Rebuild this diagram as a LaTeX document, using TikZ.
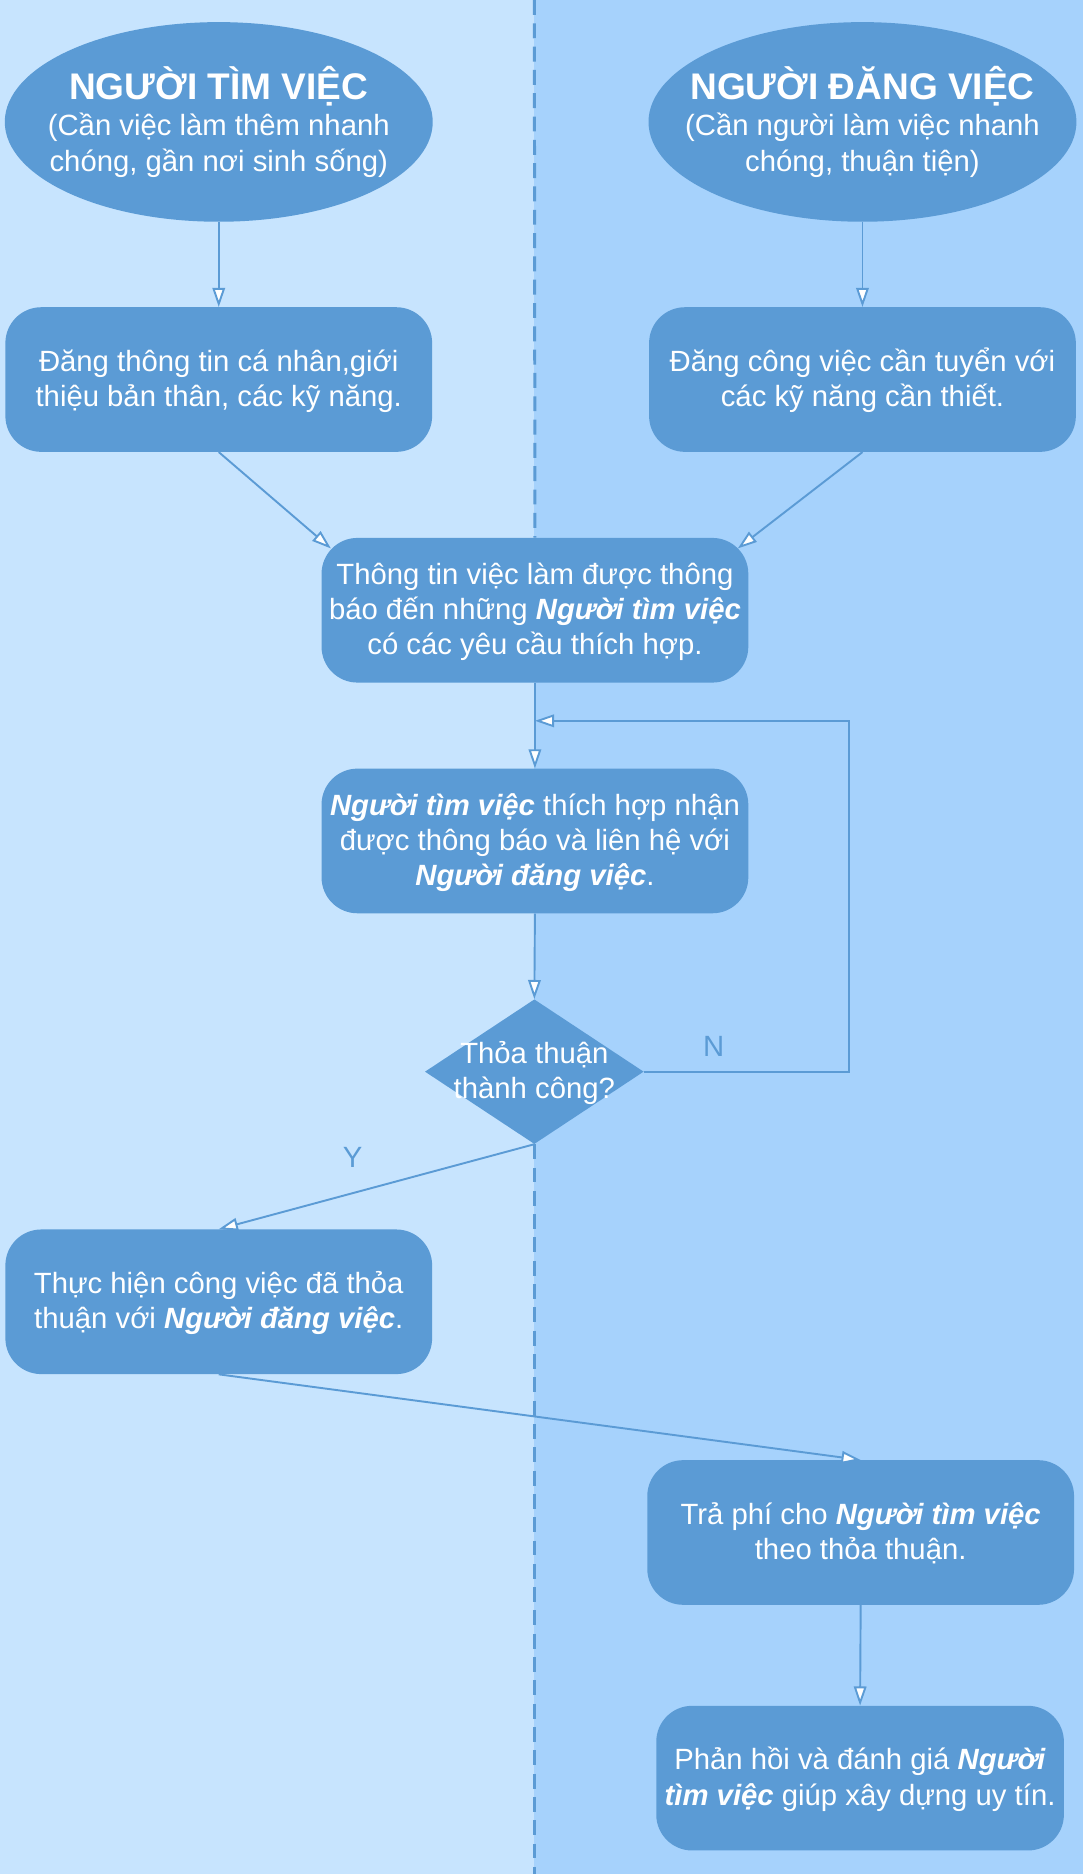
\documentclass[tikz,border=0pt]{standalone}
\usepackage{fontspec}
\setmainfont{Liberation Sans}
\usetikzlibrary{shapes.geometric,arrows.meta,calc}
\definecolor{nodeblue}{HTML}{5B9BD5}
\definecolor{leftbg}{HTML}{C7E4FE}
\definecolor{rightbg}{HTML}{A6D2FC}
\newcommand{\bi}[1]{\textbf{\textit{#1}}}
\newcommand{\ml}[1]{\raisebox{-2pt}[\height][\depth]{\begin{tabular}{@{}c@{}}#1\end{tabular}}}
\begin{document}
\begin{tikzpicture}[x=1pt,y=-1pt,
  arr/.style={draw=nodeblue, line width=1.6pt, -{Triangle[length=16pt,width=10.5pt,fill=white]}},
  ellbox/.style={ellipse, fill=nodeblue, draw=none, minimum width=358pt, minimum height=167pt, inner sep=0pt},
  procbox/.style={rectangle, rounded corners=30pt, fill=nodeblue, draw=none, minimum width=357pt, minimum height=121pt, inner sep=0pt, text=white, font=\fontsize{24.5}{29.5}\selectfont},
  decbox/.style={diamond, fill=nodeblue, draw=none, minimum width=183pt, minimum height=121pt, inner sep=0pt},
  wtext/.style={text=white, inner sep=0pt, font=\fontsize{24.5}{29.5}\selectfont},
  ttext/.style={text=white, inner sep=0pt, font=\fontsize{31}{36}\selectfont\bfseries},
  lbl/.style={text=nodeblue, inner sep=0pt, font=\fontsize{24.5}{29.5}\selectfont},
  divider/.style={draw=nodeblue, line width=2.5pt, dash pattern=on 12.5pt off 7pt}
]
\useasboundingbox (0,0) rectangle (906,1567.7);
\fill[leftbg] (0,0) rectangle (447,1567.7);
\fill[rightbg] (447,0) rectangle (906,1567.7);

% ellipses
\node[ellbox] (e1) at (183,102) {};
\node[ttext] (e1t) at (183,72) {NGƯỜI TÌM VIỆC};
\node[wtext] (e1s) at (183,120.5) {\ml{(Cần việc làm thêm nhanh\\chóng, gần nơi sinh sống)}};
\node[ellbox] (e2) at (721.5,102) {};
\node[ttext] (e2t) at (721.5,72) {NGƯỜI ĐĂNG VIỆC};
\node[wtext] (e2s) at (721.5,120.5) {\ml{(Cần người làm việc nhanh\\chóng, thuận tiện)}};

% process boxes
\node[procbox] (b1) at (183,317.5) {\ml{Đăng thông tin cá nhân,giới\\thiệu bản thân, các kỹ năng.}};
\node[procbox] (b2) at (721.5,317.5) {\ml{Đăng công việc cần tuyển với\\các kỹ năng cần thiết.}};
\node[procbox] (info) at (447.5,510.5) {\ml{Thông tin việc làm được thông\\báo đến những \bi{Người tìm việc}\\có các yêu cầu thích hợp.}};
\node[procbox] (b3) at (447.5,703.5) {\ml{\bi{Người tìm việc} thích hợp nhận\\được thông báo và liên hệ với\\\bi{Người đăng việc}.}};
\node[decbox] (d) at (447,896.5) {};
\node[wtext] (dt) at (447,896.5) {\ml{Thỏa thuận\\thành công?}};
\node[procbox] (b4) at (183,1089) {\ml{Thực hiện công việc đã thỏa\\thuận với \bi{Người đăng việc}.}};
\node[procbox] (b5) at (720,1282) {\ml{Trả phí cho \bi{Người tìm việc}\\theo thỏa thuận.}};
\node[procbox, minimum width=341pt] (b6) at (719.5,1487.5) {\ml{Phản hồi và đánh giá \bi{Người}\\\bi{tìm việc} giúp xây dựng uy tín.}};

% lane divider (visible above the info box and below the decision)
\coordinate (divtop) at (447,0);
\coordinate (divbot) at (447,1567.7);
\draw[divider] (divtop) -- (info.north);
\draw[divider] (d.south) -- (divbot);

% labels
\node[lbl] (nlab) at (597,875) {N};
\node[lbl] (ylab) at (295,968) {Y};

% connectors
\draw[arr] (e1.south) -- (b1.north);
\draw[arr] (e2.south) -- (b2.north);
\coordinate (infoL) at ($(info.north west)+(8,9)$);
\coordinate (infoR) at ($(info.north east)+(-9,9)$);
\draw[arr] (b1.south) -- (infoL);
\draw[arr] (b2.south) -- (infoR);
\draw[arr] (info.south) -- (b3.north);
\coordinate (loopR) at (710,603);
\coordinate (loopEnd) at (447.5,603);
\draw[arr] (d.east) -| (loopR) -- (loopEnd);
\draw[arr] (b3.south) -- (d.north);
\draw[arr] (d.south) -- (b4.north);
\draw[arr] (b4.south) -- (b5.north);
\draw[arr] (b5.south) -- (b6.north);
\end{tikzpicture}
\end{document}
